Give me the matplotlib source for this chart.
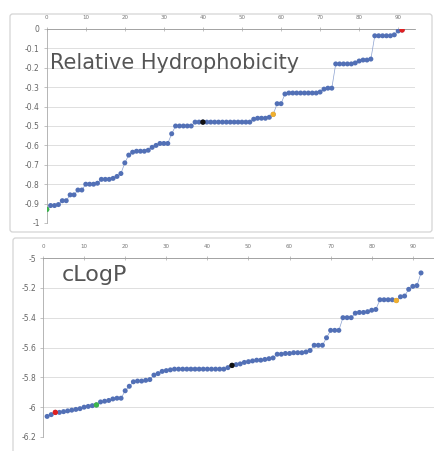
import matplotlib
matplotlib.use("Agg")
import matplotlib.pyplot as plt
from matplotlib.patches import FancyBboxPatch

# ---- data ----
hydro_x = list(range(0, 92))
hydro_y = [-0.93, -0.91, -0.91, -0.905, -0.885, -0.885, -0.855, -0.855, -0.83, -0.83,
           -0.80, -0.80, -0.80, -0.795, -0.775, -0.775, -0.775, -0.77, -0.76, -0.745,
           -0.69, -0.65, -0.635, -0.63, -0.63, -0.63, -0.625, -0.61, -0.60, -0.59,
           -0.59, -0.59, -0.54, -0.50, -0.50, -0.50, -0.50, -0.50, -0.48, -0.48,
           -0.48, -0.48, -0.48, -0.48, -0.48, -0.48, -0.48, -0.48, -0.48, -0.48,
           -0.48, -0.48, -0.48, -0.465, -0.46, -0.46, -0.46, -0.455, -0.44, -0.385,
           -0.385, -0.335, -0.33, -0.33, -0.33, -0.33, -0.33, -0.33, -0.33, -0.33,
           -0.325, -0.31, -0.305, -0.305, -0.18, -0.18, -0.18, -0.18, -0.18, -0.175,
           -0.165, -0.16, -0.16, -0.155, -0.035, -0.035, -0.035, -0.035, -0.035, -0.03,
           -0.01, -0.005]
hydro_marks = {0: "#3cb54a", 91: "#e02020", 40: "#111111", 58: "#f0b030"}

clogp_x = list(range(1, 93))
clogp_y = [-6.062, -6.05, -6.035, -6.035, -6.03, -6.025, -6.02, -6.015, -6.01, -6.0,
           -5.995, -5.99, -5.985, -5.965, -5.96, -5.955, -5.945, -5.94, -5.94, -5.89,
           -5.86, -5.83, -5.825, -5.825, -5.82, -5.815, -5.785, -5.775, -5.76, -5.755,
           -5.75, -5.745, -5.745, -5.745, -5.745, -5.745, -5.745, -5.745, -5.745, -5.745,
           -5.745, -5.745, -5.745, -5.745, -5.735, -5.72, -5.715, -5.71, -5.70, -5.695,
           -5.69, -5.685, -5.685, -5.68, -5.675, -5.67, -5.645, -5.645, -5.64, -5.64,
           -5.635, -5.635, -5.635, -5.63, -5.62, -5.585, -5.585, -5.585, -5.535, -5.485,
           -5.485, -5.485, -5.40, -5.40, -5.40, -5.37, -5.365, -5.365, -5.36, -5.35,
           -5.345, -5.28, -5.28, -5.28, -5.28, -5.285, -5.26, -5.255, -5.21, -5.19,
           -5.185, -5.10]
clogp_marks = {12: "#3cb54a", 2: "#e02020", 45: "#111111", 85: "#f0b030"}

x_ticks = list(range(0, 100, 10))
hydro_ticks = [0, -0.1, -0.2, -0.3, -0.4, -0.5, -0.6, -0.7, -0.8, -0.9, -1]
hydro_labels = ["0", "-0.1", "-0.2", "-0.3", "-0.4", "-0.5", "-0.6", "-0.7", "-0.8", "-0.9", "-1"]
clogp_ticks = [-5, -5.2, -5.4, -5.6, -5.8, -6, -6.2]
clogp_labels = ["-5", "-5.2", "-5.4", "-5.6", "-5.8", "-6", "-6.2"]

BLUE = "#5270b6"
GRID = "#d9d9d9"
TXT = "#666666"

fig = plt.figure(figsize=(4.35, 4.51), dpi=100)

# panel frames
W, H = 435.0, 451.0
for (x0, y0, x1, y1) in [(10, 14, 432, 232), (13, 238, 440, 455)]:
    fig.patches.append(FancyBboxPatch((x0 / W, 1 - y1 / H), (x1 - x0) / W, (y1 - y0) / H,
                                      boxstyle="round,pad=0,rounding_size=0.006",
                                      transform=fig.transFigure, facecolor="none",
                                      edgecolor="#d4d4d4", lw=0.9, zorder=-1))


def style(ax, xlim, ylim, yt, yl):
    ax.set_xlim(*xlim)
    ax.set_ylim(*ylim)
    ax.set_facecolor("none")
    ax.xaxis.tick_top()
    ax.set_xticks(x_ticks)
    ax.set_yticks(yt)
    ax.set_yticklabels(yl)
    ax.tick_params(axis="x", labelsize=4, colors="#aaaaaa", labelcolor="#777777",
                   direction="inout", length=3, width=0.5, pad=5)
    ax.tick_params(axis="y", labelsize=5.5, colors="#aaaaaa", labelcolor=TXT,
                   direction="out", length=2, width=0.5, pad=3)
    for s in ["right", "bottom"]:
        ax.spines[s].set_visible(False)
    ax.spines["left"].set_color("#aaaaaa")
    ax.spines["left"].set_linewidth(0.6)
    ax.spines["top"].set_color("#999999")
    ax.spines["top"].set_linewidth(0.6)
    ax.grid(axis="y", color=GRID, lw=0.6)
    ax.set_axisbelow(True)


def draw(ax, xs, ys, marks):
    ax.plot(xs, ys, color="#8aa0d0", lw=0.5, zorder=2)
    ax.scatter(xs, ys, s=13, color=BLUE, edgecolors="none", zorder=3)
    for i, c in marks.items():
        ax.scatter([xs[i]], [ys[i]], s=15, color=c, edgecolors="none", zorder=4)


ax1 = fig.add_axes([46.7 / W, 1 - 223 / H, (415 - 46.7) / W, (223 - 29) / H])
style(ax1, (0, 94.3), (-1, 0), hydro_ticks, hydro_labels)
draw(ax1, hydro_x, hydro_y, hydro_marks)
ax1.text(0.008, 0.825, "Relative Hydrophobicity", transform=ax1.transAxes,
         fontsize=15, color="#555555", va="center", ha="left")

ax2 = fig.add_axes([43 / W, 1 - 437 / H, (435 - 43) / W, (437 - 258) / H])
style(ax2, (0, 95.4), (-6.2, -5), clogp_ticks, clogp_labels)
draw(ax2, clogp_x, clogp_y, clogp_marks)
ax2.text(0.048, 0.905, "cLogP", transform=ax2.transAxes,
         fontsize=16, color="#555555", va="center", ha="left")

fig.savefig("out.png", dpi=100)
